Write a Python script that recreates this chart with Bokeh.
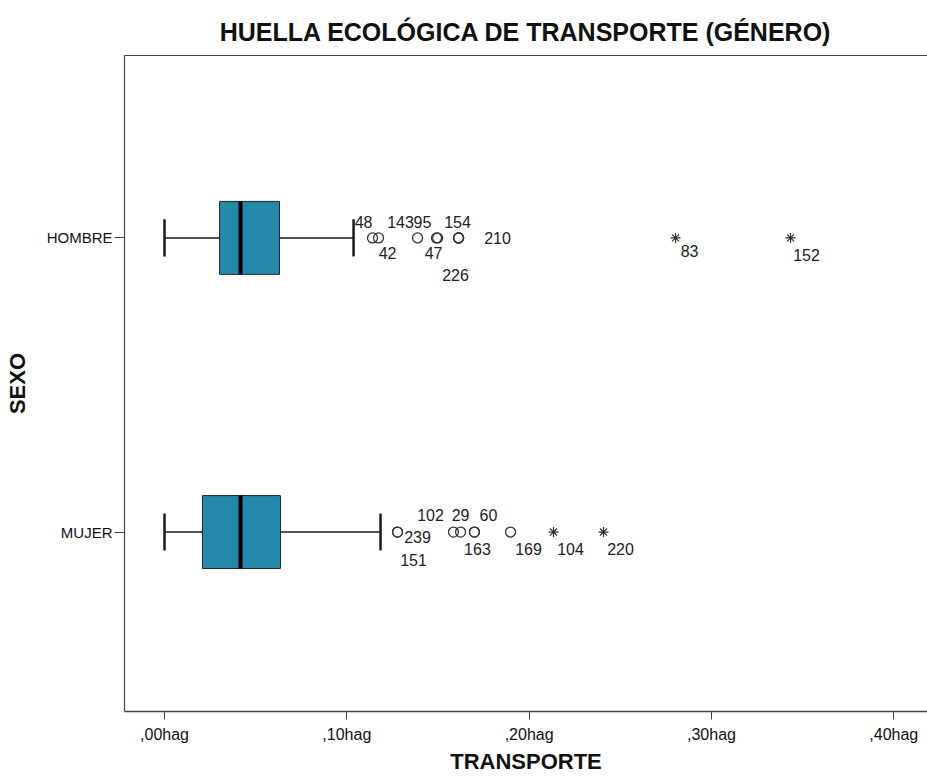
from bokeh.plotting import figure
from bokeh.models import (ColumnDataSource, FixedTicker, CustomJSTickFormatter,
                          LabelSet, LinearAxis, Range1d)
from bokeh.core.properties import value
from bokeh.embed import file_html
from bokeh.resources import INLINE

# ---------------- data ----------------
groups = ["MUJER", "HOMBRE"]
group_pos = [1, 2]
whisker_low = [0.0, 0.0]
q1 = [0.0208, 0.0302]
median = [0.0417, 0.0417]
q3 = [0.0636, 0.0631]
whisker_high = [0.1185, 0.1037]

# outliers (circles) and extremes (stars): value and case label
hombre_out_vals = [0.1141, 0.1174, 0.1388, 0.1492, 0.1498, 0.1613, 0.1613, 0.1613]
hombre_out_ids = ["48", "42", "143", "95", "47", "154", "210", "226"]
hombre_ext_vals = [0.2803, 0.3434]
hombre_ext_ids = ["83", "152"]

mujer_out_vals = [0.1278, 0.1278, 0.1585, 0.1624, 0.1700, 0.1700, 0.1898]
mujer_out_ids = ["239", "151", "102", "29", "60", "163", "169"]
mujer_ext_vals = [0.2134, 0.2408]
mujer_ext_ids = ["104", "220"]

x_ticks = [0.0, 0.1, 0.2, 0.3, 0.4]

# label placement offsets (screen pixels, style only)
hombre_out_dx = [-9, 9, -17, -14, -4, -1, 39, -3]
hombre_out_dy = [16, -15, 16, 16, -15, 16, 0, -37]
hombre_ext_dx = [14, 16]
hombre_ext_dy = [-13, -17]
mujer_out_dx = [20, 16, -23, 0, 14, 3, 18]
mujer_out_dy = [-5, -28, 17, 17, 17, -17, -17]
mujer_ext_dx = [17, 17]
mujer_ext_dy = [-17, -17]

# ---------------- figure ----------------
BOX_HALF = 0.124
CAP_HALF = 0.063
BOX_COLOR = "#2589AB"
LINE = "#1a1a1a"
FONT = "Liberation Sans"

p = figure(width=927, height=776, output_backend="svg", toolbar_location=None,
           x_range=Range1d(-0.02194, 0.4185), y_range=Range1d(0.39, 2.62),
           min_border_left=124, min_border_right=0, min_border_top=55,
           min_border_bottom=63)
p.outline_line_color = None
p.xgrid.visible = False
p.ygrid.visible = False
p.background_fill_color = "white"

p.title.text = "HUELLA ECOLÓGICA DE TRANSPORTE (GÉNERO)"
p.title.align = "center"
p.title.text_font = FONT
p.title.text_font_size = "25px"
p.title.text_font_style = "bold"
p.title.text_color = "#111111"
p.title.offset = 0
p.title.standoff = 19

src_box = ColumnDataSource(dict(
    y=group_pos, lo=whisker_low, q1=q1, med=median, q3=q3, hi=whisker_high,
    bot=[g - BOX_HALF for g in group_pos], top=[g + BOX_HALF for g in group_pos],
    cb=[g - CAP_HALF for g in group_pos], ct=[g + CAP_HALF for g in group_pos],
))

# whiskers
p.segment(x0="lo", y0="y", x1="q1", y1="y", source=src_box, line_color=LINE, line_width=1.5)
p.segment(x0="q3", y0="y", x1="hi", y1="y", source=src_box, line_color=LINE, line_width=1.5)
p.segment(x0="lo", y0="cb", x1="lo", y1="ct", source=src_box, line_color=LINE, line_width=2.5)
p.segment(x0="hi", y0="cb", x1="hi", y1="ct", source=src_box, line_color=LINE, line_width=2.5)
# boxes
p.quad(left="q1", right="q3", bottom="bot", top="top", source=src_box,
       fill_color=BOX_COLOR, line_color="#222222", line_width=1)
p.segment(x0="med", y0="bot", x1="med", y1="top", source=src_box,
          line_color="black", line_width=4)


def add_points(vals, ids, ypos, dx, dy, marker, size, lw):
    src = ColumnDataSource(dict(x=vals, y=[ypos] * len(vals), t=ids))
    p.scatter(x="x", y="y", source=src, marker=marker, size=size,
              fill_color=None, line_color="#333333", line_width=lw)
    for xv, t, ox, oy in zip(vals, ids, dx, dy):
        s = ColumnDataSource(dict(x=[xv], y=[ypos], t=[t]))
        p.add_layout(LabelSet(x="x", y="y", text="t", source=s,
                              x_offset=ox, y_offset=oy,
                              text_align="center", text_baseline="middle",
                              text_font=value(FONT), text_font_size=value("16px"),
                              text_color="#222222"))


add_points(hombre_out_vals, hombre_out_ids, group_pos[1], hombre_out_dx, hombre_out_dy, "circle", 10, 1.3)
add_points(hombre_ext_vals, hombre_ext_ids, group_pos[1], hombre_ext_dx, hombre_ext_dy, "asterisk", 10, 1.2)
add_points(mujer_out_vals, mujer_out_ids, group_pos[0], mujer_out_dx, mujer_out_dy, "circle", 10, 1.3)
add_points(mujer_ext_vals, mujer_ext_ids, group_pos[0], mujer_ext_dx, mujer_ext_dy, "asterisk", 10, 1.2)

# axes
xa = p.xaxis[0]
xa.ticker = FixedTicker(ticks=x_ticks)
xa.formatter = CustomJSTickFormatter(code="return ',' + tick.toFixed(2).split('.')[1] + 'hag';")
xa.axis_label = "TRANSPORTE"
xa.axis_label_text_font = FONT
xa.axis_label_text_font_size = "22px"
xa.axis_label_text_font_style = "bold"
xa.axis_label_text_color = "#111111"
xa.axis_label_standoff = 3
xa.major_label_text_font = FONT
xa.major_label_text_font_size = "16px"
xa.major_label_text_color = "#111111"
xa.major_label_standoff = 6
xa.major_tick_out = 8
xa.major_tick_in = 0
xa.minor_tick_out = 0
xa.minor_tick_in = 0
xa.axis_line_color = "#444444"
xa.axis_line_width = 1.5
xa.major_tick_line_color = "#444444"

ya = p.yaxis[0]
ya.ticker = FixedTicker(ticks=group_pos)
ya.major_label_overrides = {g: n for g, n in zip(group_pos, groups)}
ya.axis_label = "SEXO"
ya.axis_label_text_font = FONT
ya.axis_label_text_font_size = "22px"
ya.axis_label_text_font_style = "bold"
ya.axis_label_text_color = "#111111"
ya.axis_label_standoff = 14
ya.major_label_text_font = FONT
ya.major_label_text_font_size = "15px"
ya.major_label_text_color = "#111111"
ya.major_label_standoff = 2
ya.major_tick_out = 10
ya.major_tick_in = 0
ya.minor_tick_out = 0
ya.minor_tick_in = 0
ya.axis_line_color = "#444444"
ya.axis_line_width = 1.2
ya.major_tick_line_color = "#444444"

top_axis = LinearAxis(ticker=FixedTicker(ticks=[]), major_label_text_font_size="0px",
                      axis_line_color="#444444", axis_line_width=1.2,
                      major_tick_out=0, minor_tick_out=0, major_tick_in=0, minor_tick_in=0,
                      major_label_standoff=0)
p.add_layout(top_axis, "above")

open("out.html", "w").write(file_html(p, INLINE))
